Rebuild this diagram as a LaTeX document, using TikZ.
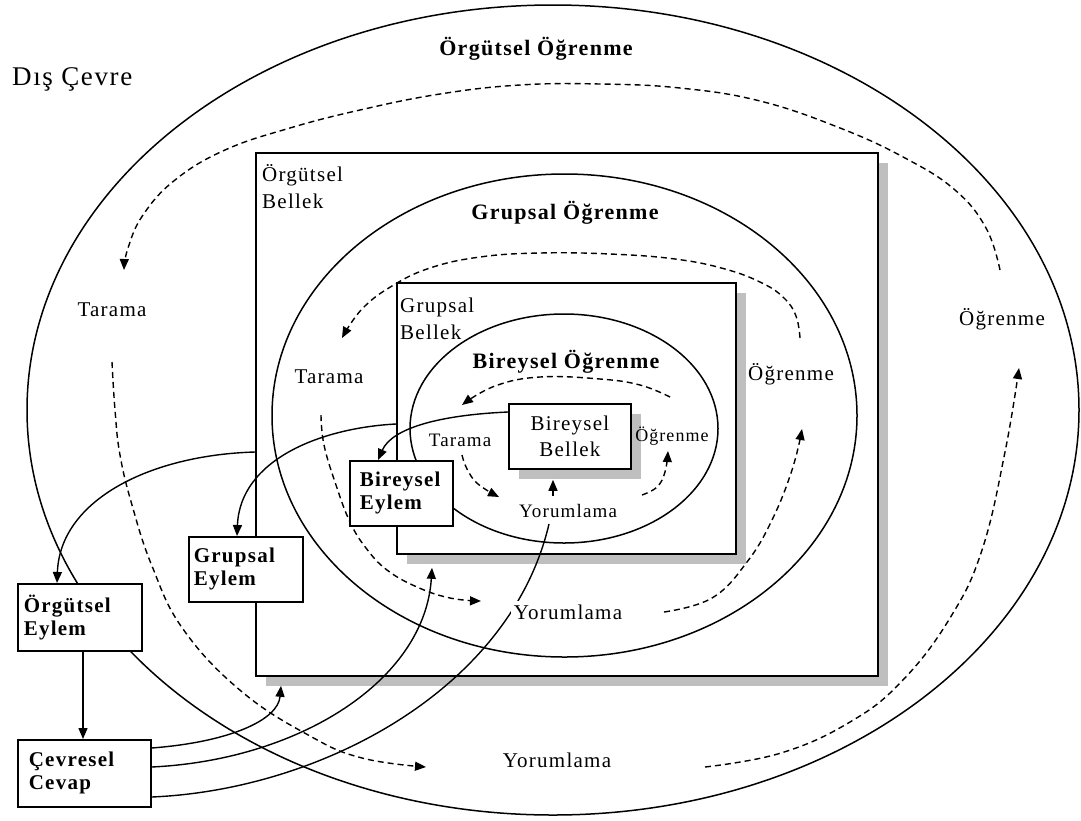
\documentclass[tikz,border=0pt]{standalone}
\usepackage{fontspec}
\setmainfont{Liberation Serif}
\newfontfamily\lbl[LetterSpace=6]{Liberation Serif}
\usetikzlibrary{arrows.meta,shadows,calc}
\begin{document}
\begin{tikzpicture}[x=1pt,y=-1pt,
  every node/.style={inner sep=0pt},
  lab/.style={font=\lbl\fontsize{21}{27}\selectfont},
  smalllab/.style={font=\lbl\fontsize{19}{21}\selectfont},
  headtxt/.style={font=\lbl\bfseries\fontsize{22}{26}\selectfont},
  ellline/.style={line width=1.5pt},
  mem/.style={draw, line width=1.8pt, fill=white, anchor=north west,
    general shadow={fill=black!25, shadow xshift=10pt, shadow yshift=-10pt}},
  act/.style={draw, line width=1.6pt, fill=white, anchor=north west, align=left,
    inner ysep=0pt, font=\lbl\bfseries\fontsize{21}{23}\selectfont},
  arrowhd/.style={-{Triangle[length=11pt,width=9pt]}},
  flow/.style={line width=1.4pt, dash pattern=on 6pt off 4pt, arrowhd},
  conn/.style={line width=1.4pt}
]
\useasboundingbox (0,0) rectangle (1081,820);

% outer ring
\draw[ellline] (553,410) ellipse [x radius=526, y radius=405];
% organisational memory
\node[mem, minimum width=622pt, minimum height=523pt] (OB) at (255,152) {};
% group ring
\draw[ellline] (564.5,415.5) ellipse [x radius=292.5, y radius=241.5];
% group memory
\node[mem, minimum width=339pt, minimum height=271pt] (GB) at (396,282) {};
% individual ring
\draw[ellline] (564,428.5) ellipse [x radius=154, y radius=114.5];
% individual memory
\node[mem, minimum width=122pt, minimum height=65pt, align=center,
  font=\lbl\fontsize{21}{26}\selectfont] (BB) at (508,403) {Bireysel\\Bellek};

% dashed cycles - outer
\draw[flow] plot[smooth, tension=0.7] coordinates {(1000,270) (986,228) (955,190) (905,158) (840,128) (760,101) (680,88) (600,84) (520,85) (440,94) (360,110) (290,128) (225,150) (175,180) (143,215) (128,248) (124,270)};
\draw[flow] plot[smooth, tension=0.7] coordinates {(112,362) (115,410) (120,455) (132,505) (152,566) (183,629) (241,691) (310,736) (362,758) (426,767)};
\draw[flow] plot[smooth, tension=0.7] coordinates {(705,767) (781,753) (850,722) (902,681) (950,618) (982,550) (1005,452) (1019,368)};
% dashed cycles - group
\draw[flow] plot[smooth, tension=0.7] coordinates {(800,338) (796,316) (784,298) (762,283) (725,269) (675,259) (610,254) (540,253) (480,257) (430,268) (392,286) (362,309) (342,338)};
\draw[flow] plot[smooth, tension=0.7] coordinates {(321,415) (324,445) (336,485) (350,522) (366,548) (387,570) (417,587) (450,598) (481,601)};
\draw[flow] plot[smooth, tension=0.7] coordinates {(664,612) (712,598) (747,562) (772,520) (792,470) (802,429)};
% dashed cycles - individual
\draw[flow] plot[smooth, tension=0.7] coordinates {(670,397) (640,385) (600,379) (540,377) (495,386) (462,405)};
\draw[flow] plot[smooth, tension=0.7] coordinates {(462,455) (467,469) (478,484) (499,497)};
\draw[flow] plot[smooth, tension=0.7] coordinates {(642,495) (657,487) (665,472) (668,451)};

% action boxes
\node[act, minimum width=103pt, minimum height=65pt, inner xsep=10pt, text width=83pt] (BE) at (349,460) {Bireysel\\Eylem};
\node[act, minimum width=114pt, minimum height=65pt, inner xsep=5pt, text width=104pt] (GE) at (188,536) {Grupsal\\Eylem};
\node[act, minimum width=124pt, minimum height=67pt, inner xsep=6pt, text width=112pt] (OE) at (17,583) {Örgütsel\\Eylem};
\node[act, minimum width=133pt, minimum height=67pt, inner xsep=11pt, text width=111pt] (CC) at (17,739) {Çevresel\\Cevap};

% labels
\node[anchor=base west, font=\lbl\fontsize{27}{30}\selectfont] (DC) at (12,85) {Dış Çevre};
\node[headtxt, anchor=base] (HO) at (536,55) {Örgütsel Öğrenme};
\node[headtxt, anchor=base] (HG) at (565,219) {Grupsal Öğrenme};
\node[headtxt, anchor=base] (HB) at (566,368) {Bireysel Öğrenme};
\node[lab, anchor=north west, align=left] (OBl) at (262,164) {Örgütsel\\Bellek};
\node[lab, anchor=north west, align=left] (GBl) at (400,298) {Grupsal\\Bellek};

\node[lab, anchor=base] (T1) at (112,316) {Tarama};
\node[lab, anchor=base] (T2) at (329,383) {Tarama};
\node[smalllab, anchor=base] (T3) at (460,446) {Tarama};
\node[lab, anchor=base] (L1) at (1002,325) {Öğrenme};
\node[lab, anchor=base] (L2) at (791,380) {Öğrenme};
\node[font=\lbl\fontsize{18}{20}\selectfont, anchor=base] (L3) at (672,441) {Öğrenme};
\node[smalllab, anchor=base] (Y3) at (568,517) {Yorumlama};
\node[lab, anchor=base] (Y1) at (557,767) {Yorumlama};

% solid connectors
\coordinate (Fend) at (549,524);
\draw[conn, arrowhd] ($(BB.north west)+(0,9)$) .. controls (440,415) and (392,428) .. ($(BE.north west)+(29,0)$);
\draw[conn, arrowhd] ($(GB.north west)+(0,142)$) .. controls (320,428) and (240,460) .. ($(GE.north west)+(49,0)$);
\draw[conn, arrowhd] ($(OB.north west)+(0,300)$) .. controls (150,455) and (60,500) .. ($(OE.north west)+(40,0)$);
\draw[conn, arrowhd] ($(CC.north east)+(0,9)$) .. controls (230,742) and (278,720) .. ($(OB.south west)+(26,9)$);
\draw[conn, arrowhd] ($(CC.north east)+(0,28)$) .. controls (300,760) and (425,680) .. ($(GB.south west)+(36,13)$);
\draw[conn] ($(CC.north east)+(0,58)$) .. controls (320,790) and (510,690) .. (Fend);
\draw[conn, arrowhd] ($(OE.south west)+(66,0)$) -- ($(CC.north west)+(66,0)$);
\draw[conn, arrowhd] ($(BB.south west)+(45,26)$) -- ($(BB.south west)+(45,10)$);

\node[lab, anchor=base, fill=white, inner sep=3pt] (Y2) at (568,619) {Yorumlama};
\end{tikzpicture}
\end{document}
